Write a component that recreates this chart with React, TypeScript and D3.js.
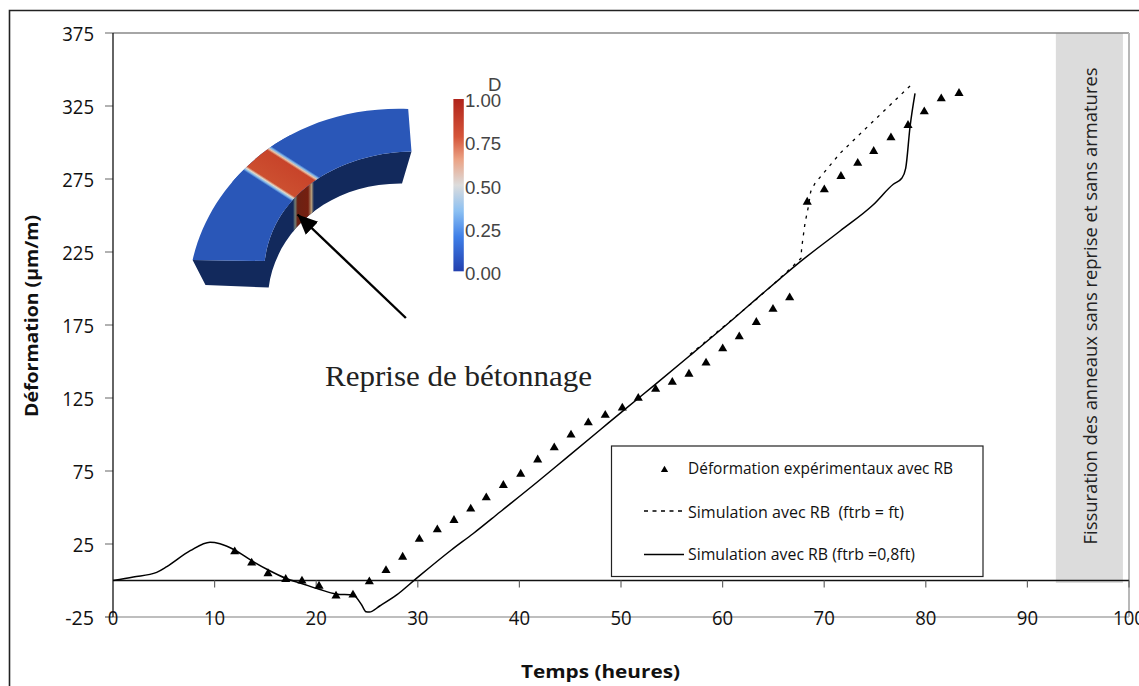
import React from "react";
import * as d3 from "d3";

const yTicks = [-25, 25, 75, 125, 175, 225, 275, 325, 375];
const xTicks = [0, 10, 20, 30, 40, 50, 60, 70, 80, 90, 100];

const expHours = [11.98, 13.65, 15.26, 17.0, 18.6, 20.28, 21.95, 23.62, 25.23, 26.87, 28.51, 30.15, 31.92, 33.56, 35.21, 36.74, 38.42, 40.13, 41.8, 43.43, 45.08, 46.78, 48.45, 50.13, 51.7, 53.41, 55.05, 56.69, 58.37, 60.01, 61.64, 63.32, 64.96, 66.6, 68.33, 70.01, 71.65, 73.3, 74.87, 76.57, 78.25, 79.85, 81.52, 83.27];
const expValues = [19.7, 12, 4.7, 0.8, -0.3, -3.8, -10.6, -9.9, -0.8, 6.9, 16.1, 28.3, 34.8, 41.2, 49, 56.7, 65.2, 72.9, 82.7, 91, 99.7, 108.1, 113.2, 118.2, 124.9, 131, 135.8, 141.4, 149, 158.8, 167, 176.8, 185.8, 193.7, 259.2, 267.7, 276.8, 285.8, 294, 303.3, 311.8, 321.1, 330, 333.7];

const solidHours = [0, 2, 4.3, 5.3, 7.6, 9.55, 10.53, 11.98, 13.65, 15.29, 17, 18.63, 20.3, 21.95, 23.65, 24.48, 24.9, 25.23, 26.28, 27.92, 29.72, 33.3, 35.46, 38.09, 41.7, 44.66, 47.93, 50.23, 53.35, 56.79, 61.05, 64.34, 65.66, 67.62, 71.56, 74.8, 76.8, 77.63, 78.02, 78.45, 78.94];
const solidValues = [0, 2.4, 5.6, 9.5, 20.4, 26.2, 25.2, 20.9, 13.6, 7.2, 1.5, -2.2, -6, -9.2, -10.1, -16.8, -21.4, -21.6, -17.3, -9.9, 0.6, 20.9, 32.2, 46.9, 67.1, 84.2, 103.1, 116.4, 134.2, 154.1, 179.1, 199, 206.8, 218.2, 239.4, 257.2, 271.4, 275.5, 282.3, 310.8, 333.7];

const dashHours = [56.79, 61.24, 63.36, 64.86, 66.93, 67.72, 67.78, 68.11, 68.44, 68.67, 69.09, 71.56, 74.34, 78.71];
const dashValues = [154.8, 180.5, 192.8, 202, 215.4, 220.7, 227.7, 244.7, 256, 266.3, 272, 292.6, 311.3, 340.5];

const legendLabels = ["Déformation expérimentaux avec RB", "Simulation avec RB  (ftrb = ft)", "Simulation avec RB (ftrb =0,8ft)"];
const colorbarLabels = ["1.00", "0.75", "0.50", "0.25", "0.00"];
const colorbarStops = [
  ["0%", "#b0241b"], ["22%", "#d5553a"], ["35%", "#eba284"], ["50%", "#dcdcdc"],
  ["65%", "#8cc0f2"], ["80%", "#3f7fe8"], ["100%", "#2340ae"],
];

const x = d3.scaleLinear().domain([0, 100]).range([113, 1129]);
const y = d3.scaleLinear().domain([-25, 375]).range([617, 33]);

const toPts = (xs: number[], ys: number[]) => xs.map((v, i) => [v, ys[i]] as [number, number]);
const line = d3.line<[number, number]>().x((d) => x(d[0])).y((d) => y(d[1])).curve(d3.curveMonotoneX);
const straight = d3.line<[number, number]>().x((d) => x(d[0])).y((d) => y(d[1]));
const tri = d3.symbol().type(d3.symbolTriangle).size(36)() as string;

const UI = "'Open Sans', 'Noto Sans', sans-serif";

// Inset rendering of the ring
const topFace = "M192.6 260 C212 175 295 105 408.2 109 L411.5 151.4 C350 152 275 185 264.7 261 Z";
const sideFace = "M192.6 260 L205.5 285 L268.7 287.6 C275 235 325 183 402 183.6 L411.5 151.4 C350 152 275 185 264.7 261 Z";

function Inset() {
  return (
    <g>
      <defs>
        <clipPath id="topClip"><path d={topFace} /></clipPath>
        <clipPath id="sideClip"><path d={sideFace} /></clipPath>
        <linearGradient id="band" gradientUnits="userSpaceOnUse" x1="266.9" y1="185.5" x2="286.1" y2="155.6">
          <stop offset="0" stopColor="#2a57b8" />
          <stop offset="0.05" stopColor="#7fb6ea" />
          <stop offset="0.1" stopColor="#e4d9c8" />
          <stop offset="0.16" stopColor="#cc4f30" />
          <stop offset="0.84" stopColor="#c8442a" />
          <stop offset="0.9" stopColor="#e8c4a8" />
          <stop offset="0.95" stopColor="#7fb6ea" />
          <stop offset="1" stopColor="#2a57b8" />
        </linearGradient>
        <linearGradient id="sideBand" gradientUnits="userSpaceOnUse" x1="293" y1="0" x2="314" y2="0">
          <stop offset="0" stopColor="#12295c" />
          <stop offset="0.1" stopColor="#6f7f78" />
          <stop offset="0.22" stopColor="#6b2214" />
          <stop offset="0.72" stopColor="#751f10" />
          <stop offset="0.88" stopColor="#b39a78" />
          <stop offset="1" stopColor="#12295c" />
        </linearGradient>
        <linearGradient id="cbar" x1="0" y1="0" x2="0" y2="1">
          {colorbarStops.map(([o, c]) => <stop key={o} offset={o} stopColor={c} />)}
        </linearGradient>
        <marker id="arrowHead" markerUnits="userSpaceOnUse" markerWidth="24" markerHeight="20" refX="20" refY="9" orient="auto">
          <path d="M0 0 L20 9 L0 18 Z" fill="#000" />
        </marker>
      </defs>
      <path d={sideFace} fill="#12295c" />
      <rect x="293" y="170" width="21" height="70" fill="url(#sideBand)" clipPath="url(#sideClip)" />
      <path d={topFace} fill="#2a57b8" />
      <rect x="232" y="135" width="90" height="75" fill="url(#band)" clipPath="url(#topClip)" />
      <line x1="405.9" y1="318" x2="297.5" y2="214.5" stroke="#000" strokeWidth="2.4" markerEnd="url(#arrowHead)" />
      <rect x="453.4" y="99" width="10.4" height="172.3" fill="url(#cbar)" />
      <g fontFamily="'Liberation Sans', sans-serif" fontSize="18.6" fill="#444">
        <text x="488" y="90.5">D</text>
        {colorbarLabels.map((l, i) => (
          <text key={l} x="465" y={107 + i * 43.3}>{l}</text>
        ))}
      </g>
      <text x="325" y="386" fontFamily="'Liberation Serif', serif" fontSize="29" fill="#222" textLength="267" lengthAdjust="spacingAndGlyphs">Reprise de bétonnage</text>
    </g>
  );
}

export default function App() {
  const tickLen = (t: number) => String(t).length * 10.6 - (t < 0 ? 3 : 0);
  return (
    <svg width={1139} height={686} style={{ position: "absolute", left: 0, top: 0, display: "block" }}>
      <rect width={1139} height={686} fill="#fff" />
      <path d="M9.5 686 V10.5 H1139" fill="none" stroke="#222" strokeWidth={1.6} />

      {/* frame */}
      <rect x={x(92.8)} y={y(375)} width={x(99.4) - x(92.8)} height={583 - y(375)} fill="#dcdcdc" />
      <line x1={x(0)} x2={x(100)} y1={y(375)} y2={y(375)} stroke="#888" strokeWidth={1.3} />
      <line x1={x(100)} x2={x(100)} y1={y(375)} y2={y(-25)} stroke="#b8b8b8" strokeWidth={2} />
      <line x1={105} x2={x(100)} y1={y(-25)} y2={y(-25)} stroke="#a8a8a8" strokeWidth={1.3} />

      {/* y axis */}
      {yTicks.map((t) => (
        <g key={t}>
          <line x1={105} x2={x(0)} y1={y(t)} y2={y(t)} stroke="#888" strokeWidth={1.3} />
          <text x={94} y={y(t) + 7.5} textAnchor="end" fontFamily={UI} fontSize={20.5} fill="#111" textLength={tickLen(t)} lengthAdjust="spacingAndGlyphs">{t}</text>
        </g>
      ))}
      <line x1={x(0)} x2={x(0)} y1={y(375)} y2={y(-25)} stroke="#111" strokeWidth={1.3} />

      {/* x axis */}
      <line x1={x(0)} x2={x(100)} y1={y(0)} y2={y(0)} stroke="#111" strokeWidth={1.3} />
      {xTicks.map((t) => (
        <g key={t}>
          <line x1={x(t)} x2={x(t)} y1={y(0)} y2={y(0) + 7} stroke="#666" strokeWidth={1.2} />
          <text x={x(t)} y={624.5} textAnchor="middle" fontFamily={UI} fontSize={20.5} fill="#111" textLength={tickLen(t)} lengthAdjust="spacingAndGlyphs">{t}</text>
        </g>
      ))}

      {/* titles */}
      <text x={600.5} y={678} textAnchor="middle" fontFamily={UI} fontWeight={700} fontSize={18.5} fill="#111" textLength={159} lengthAdjust="spacingAndGlyphs">Temps (heures)</text>
      <text transform="translate(38,316) rotate(-90)" textAnchor="middle" fontFamily={UI} fontWeight={700} fontSize={18.5} fill="#111" textLength={202} lengthAdjust="spacingAndGlyphs">Déformation (µm/m)</text>
      <text transform="translate(1097,306) rotate(-90)" textAnchor="middle" fontFamily={UI} fontSize={18.5} fill="#222" textLength={477} lengthAdjust="spacingAndGlyphs">Fissuration des anneaux sans reprise et sans armatures</text>

      {/* series */}
      <path d={straight(toPts(dashHours, dashValues)) as string} fill="none" stroke="#000" strokeWidth={1.3} strokeDasharray="3 5.5" />
      <path d={line(toPts(solidHours, solidValues)) as string} fill="none" stroke="#000" strokeWidth={1.5} />
      {expHours.map((h, i) => (
        <path key={h} d={tri} transform={`translate(${x(h)},${y(expValues[i])})`} fill="#000" />
      ))}

      <Inset />

      {/* legend */}
      <rect x={611.5} y={446} width={371.5} height={130.5} fill="#fff" stroke="#222" strokeWidth={1.2} />
      <path d={tri} transform="translate(664.5,470) scale(0.8)" fill="#000" />
      <line x1={644} x2={684} y1={511} y2={511} stroke="#000" strokeWidth={1.5} strokeDasharray="4 4.5" />
      <line x1={644} x2={684} y1={554.4} y2={554.4} stroke="#000" strokeWidth={1.5} />
      {legendLabels.map((l, i) => (
        <text key={l} x={688} y={[474, 517.5, 560][i]} fontFamily={UI} fontSize={15.5} fill="#111" textLength={[265, 216, 227][i]} lengthAdjust="spacingAndGlyphs" xmlSpace="preserve">{l}</text>
      ))}
    </svg>
  );
}
